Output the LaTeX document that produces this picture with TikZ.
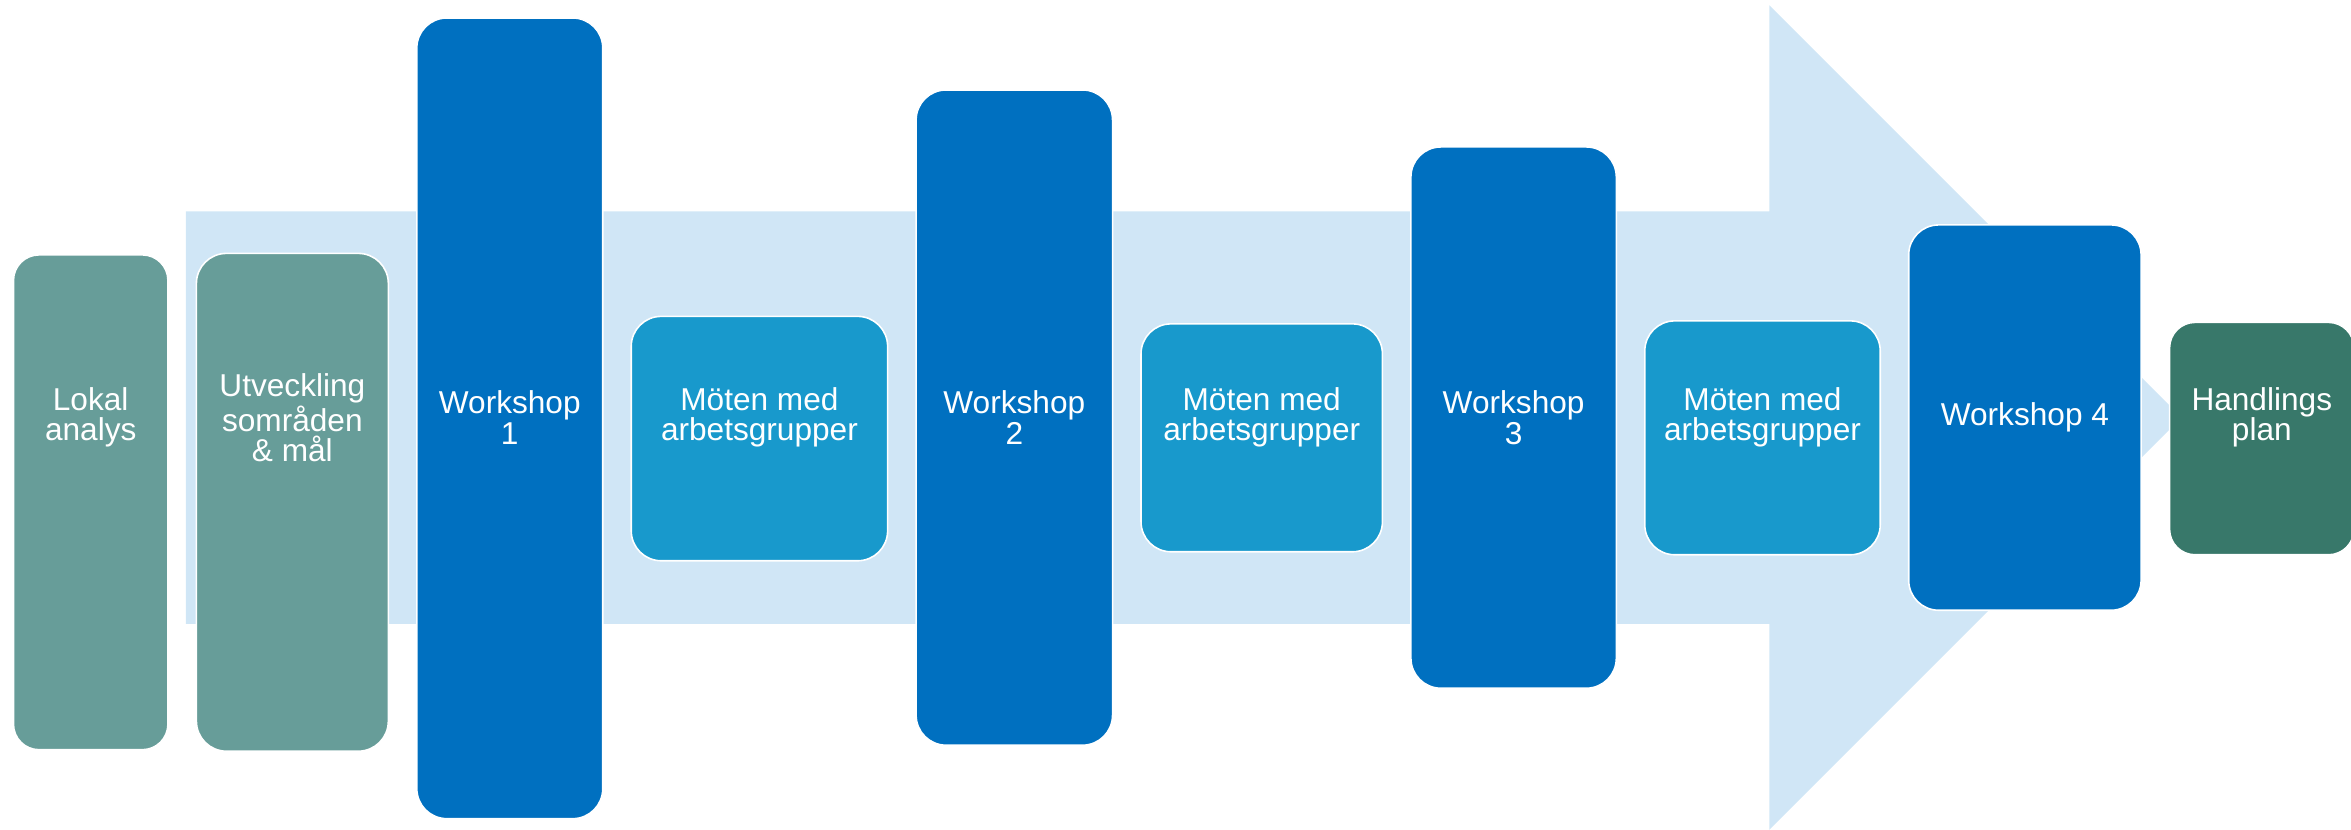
\documentclass[tikz,border=0pt]{standalone}
\usepackage{fontspec}
\setmainfont{Liberation Sans}
\definecolor{arrowblue}{RGB}{208,230,246}
\definecolor{analysisgreen}{RGB}{103,157,153}
\definecolor{wsblue}{RGB}{0,112,192}
\definecolor{meetblue}{RGB}{24,153,204}
\definecolor{plangreen}{RGB}{56,120,106}

\begin{document}
\begin{tikzpicture}[
    % GLOBAL CFG
    x=0.2mm, y=-0.2mm,
    font=\fontsize{12}{11.5}\selectfont,
    % Styles
    box/.style={% For all boxes
        rectangle,
        rounded corners=4mm,
        draw=white,
        line width=.6pt,
        inner sep=0pt,
    },
    analysis/.style={% For the first two steps
        box,
        fill=analysisgreen,
    },
    workshop/.style={% For workshops
        box,
        fill=wsblue,
    },
    meeting/.style={% For meetings
        box,
        fill=meetblue,
    },
    plan/.style={% For the result
        box,
        rounded corners=3.4mm,
        fill=plangreen,
    },
    boxtext/.style={
        text=white,
        align=center,
        inner sep=0pt,
    },
    ]
    % Frame
    \useasboundingbox (0,0) rectangle (1568,553);

    % Coordinates
    \coordinate (mid) at (0,278.5);

    % Draw background arrow
    \fill[arrowblue] (124,141) -- (1180,141) -- (1180,3.5) -- (1455,278.5)
        -- (1180,553.5) -- (1180,416) -- (124,416) -- cycle;

    % Draw boxes
    \node[analysis, rounded corners=3.4mm, minimum width=20.6mm, minimum height=66mm] (lokal) at (60.5,335) {};
    \node[analysis, minimum width=25.6mm, minimum height=66.4mm] (utv) at (195,335) {};
    \node[workshop, minimum width=24.8mm, minimum height=106.8mm] (ws1) at (340,279) {};
    \node[meeting, minimum width=34.2mm, minimum height=32.6mm] (m1) at (506.5,292.5) {};
    \node[workshop, minimum width=26.2mm, minimum height=87.4mm] (ws2) at (676.5,278.5) {};
    \node[meeting, minimum width=32.2mm, minimum height=30.4mm] (m2) at (841.5,292) {};
    \node[workshop, minimum width=27.4mm, minimum height=72.2mm] (ws3) at (1009.5,278.5) {};
    \node[meeting, minimum width=31.4mm, minimum height=31.2mm] (m3) at (1175.5,292) {};
    \node[workshop, minimum width=31mm, minimum height=51.4mm] (ws4) at (1350.5,278.5) {};
    \node[plan, minimum width=24.6mm, minimum height=31mm] (hp) at (1508.5,292.5) {};

    % Texts
    \node[boxtext] (lokaltxt) at (lokal.center |- mid) {Lokal\\analys};
    \node[boxtext] (utvtxt) at (utv.center |- mid) {Utveckling\\sområden\\\& mål};
    \node[boxtext] (ws1txt) at (ws1.center |- mid) {Workshop\\1};
    \node[boxtext] (m1txt) at (m1.center |- mid) {Möten med\\arbetsgrupper};
    \node[boxtext] (ws2txt) at (ws2.center |- mid) {Workshop\\2};
    \node[boxtext] (m2txt) at (m2.center |- mid) {Möten med\\arbetsgrupper};
    \node[boxtext] (ws3txt) at (ws3.center |- mid) {Workshop\\3};
    \node[boxtext] (m3txt) at (m3.center |- mid) {Möten med\\arbetsgrupper};
    \node[boxtext] (ws4txt) at (ws4.center |- mid) {Workshop 4};
    \node[boxtext] (hptxt) at (hp.center |- mid) {Handlings\\plan};

\end{tikzpicture}
\end{document}
